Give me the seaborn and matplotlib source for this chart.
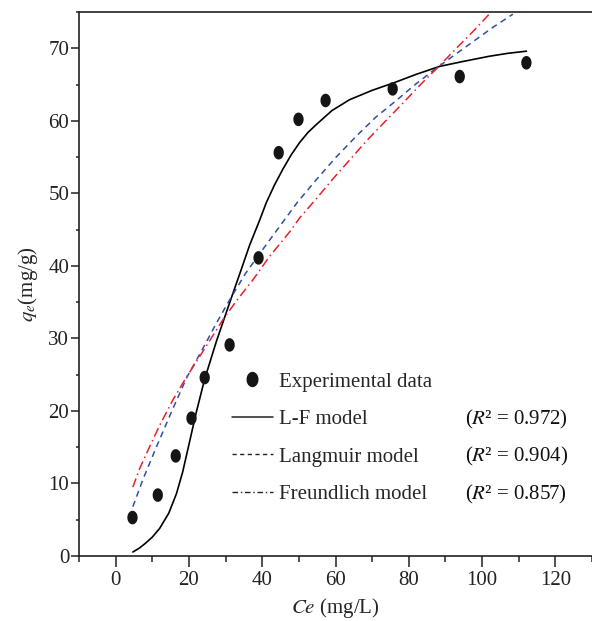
import numpy as np
import matplotlib
matplotlib.use("Agg")
import matplotlib.pyplot as plt
from matplotlib.lines import Line2D
from matplotlib.path import Path
from matplotlib.ticker import MultipleLocator
import seaborn as sns

# ---- data ----
exp_ce = [4.6, 11.5, 16.4, 20.7, 24.3, 31.1, 39.0, 44.5, 49.9, 57.3, 75.6, 93.9, 112.1]
exp_qe = [5.3, 8.4, 13.8, 19.0, 24.6, 29.1, 41.1, 55.6, 60.2, 62.8, 64.4, 66.1, 68.0]

lf_ce = [4.7, 6.5, 8.0, 10.0, 12.0, 14.5, 16.6, 18.3, 20.2, 22.0, 24.3, 27.5, 31.1,
         34.0, 36.6, 39.3, 41.1, 43.3, 45.6, 47.9, 50.2, 52.5, 54.8, 59.0, 63.8, 70.0,
         75.7, 82.0, 88.4, 95.0, 102.0, 107.0, 112.1]
lf_qe = [0.55, 1.1, 1.7, 2.6, 3.8, 5.9, 8.6, 11.6, 15.8, 19.8, 24.4, 29.6, 34.9,
         39.1, 42.9, 46.3, 48.7, 51.1, 53.3, 55.3, 57.0, 58.4, 59.5, 61.4, 62.9, 64.2,
         65.2, 66.4, 67.5, 68.2, 68.9, 69.3, 69.6]

lang_ce = [4.7, 7.4, 11.1, 15.6, 19.5, 23.8, 27.5, 31.1, 35.5, 40.2, 44.7, 49.5,
           54.8, 60.0, 65.7, 71.0, 76.6, 81.5, 86.6, 92.0, 97.5, 103.0, 108.4]
lang_qe = [6.8, 10.5, 15.0, 20.3, 24.7, 28.6, 32.1, 35.3, 39.0, 42.3, 45.4, 48.7,
           51.9, 54.9, 57.9, 60.5, 62.8, 64.9, 66.9, 68.9, 70.9, 72.9, 74.7]

freu_ce = [4.7, 6.5, 9.3, 12.0, 15.6, 19.0, 23.8, 29.3, 33.0, 37.5, 42.0, 47.5, 50.2,
           55.0, 59.3, 63.0, 68.4, 72.0, 76.6, 83.8, 88.0, 93.0, 97.5, 102.5]
freu_qe = [9.5, 12.0, 15.1, 18.0, 21.5, 24.4, 28.2, 32.6, 35.2, 38.1, 41.3, 44.7, 46.6,
           49.4, 52.0, 54.1, 57.2, 59.1, 61.5, 65.3, 67.4, 70.0, 72.3, 75.0]

legend_labels = ["Experimental data", "L-F model", "Langmuir model", "Freundlich model"]
r2_values = ["0.972", "0.904", "0.857"]
x_ticks = [0, 20, 40, 60, 80, 100, 120]
y_ticks = [0, 10, 20, 30, 40, 50, 60, 70]

# ---- style ----
sns.set_style("ticks")
plt.rcParams["font.family"] = ["Liberation Serif", "DejaVu Serif"]
plt.rcParams["mathtext.fontset"] = "stix"

FS = 15
W, H = 592, 621
fig = plt.figure(figsize=(W / 100, H / 100), dpi=100)
ax = fig.add_axes([79 / W, 1 - 556 / H, 1 - 79 / W, (556 - 12) / H])

theta = np.linspace(0, 2 * np.pi, 64)
ellipse = Path(np.column_stack([0.76 * np.cos(theta), np.sin(theta)]), closed=True)

blue = "#2f4fa6"
red = "#e8202a"

sns.lineplot(x=lf_ce, y=lf_qe, ax=ax, color="black", lw=1.2, sort=False, estimator=None)
sns.lineplot(x=lang_ce, y=lang_qe, ax=ax, color=blue, lw=1.1, sort=False, estimator=None,
             linestyle=(0, (4, 3)))
sns.lineplot(x=freu_ce, y=freu_qe, ax=ax, color=red, lw=1.1, sort=False, estimator=None,
             linestyle=(0, (6, 2.5, 1, 2.5)))
sns.scatterplot(x=exp_ce, y=exp_qe, ax=ax, color="#151515", marker=ellipse, s=95,
                edgecolor="none", zorder=5)

ax.set_xlim(-10, 130)
ax.set_ylim(0, 75)
ax.set_xticks(x_ticks)
ax.set_yticks(y_ticks)
ax.xaxis.set_minor_locator(MultipleLocator(10))
ax.yaxis.set_minor_locator(MultipleLocator(5))

for side in ["left", "bottom", "top"]:
    ax.spines[side].set_color("#222222")
    ax.spines[side].set_linewidth(1.2)
ax.spines["right"].set_visible(False)

ax.tick_params(axis="both", which="both", direction="out", colors="#222222",
               labelsize=FS, width=1.1, top=False, right=False)
ax.tick_params(axis="x", which="major", length=8, pad=3)
ax.tick_params(axis="x", which="minor", length=4)
ax.tick_params(axis="y", which="major", length=5.5, pad=1.5)
ax.tick_params(axis="y", which="minor", length=2.5)
for lab in ax.get_xticklabels() + ax.get_yticklabels():
    lab.set_color("#222222")

ax.set_xlabel(r"$Ce$ (mg/L)", fontsize=FS, labelpad=4)
ax.set_ylabel(r"$q_e$(mg/g)", fontsize=FS, labelpad=6)

handles = [
    Line2D([], [], marker=ellipse, ls="none", color="#151515", ms=10),
    Line2D([], [], color="#222222", lw=1.1),
    Line2D([], [], color="#222222", lw=1.0, ls=(0, (3, 2.5))),
    Line2D([], [], color="#222222", lw=1.0, ls=(0, (4, 2, 1, 2))),
]
leg = ax.legend(handles, legend_labels, loc="upper left",
                bbox_to_anchor=(232 / W, 1 - 372 / H), bbox_transform=fig.transFigure,
                frameon=False, fontsize=FS, handlelength=1.95, handletextpad=0.3,
                labelspacing=0.86, borderpad=0, borderaxespad=0)

fig.canvas.draw()
renderer = fig.canvas.get_renderer()
for t, v in zip(leg.get_texts()[1:], r2_values):
    _, _, descent = t._get_layout(renderer)
    ext = t.get_window_extent(renderer)
    base = ext.y0 + descent
    fig.text(465 / W, base / fig.bbox.height, r"($\mathit{R}$² = " + v + ")",
             fontsize=FS, va="baseline", ha="left", color="#111111")

fig.savefig("out.png", dpi=100)
